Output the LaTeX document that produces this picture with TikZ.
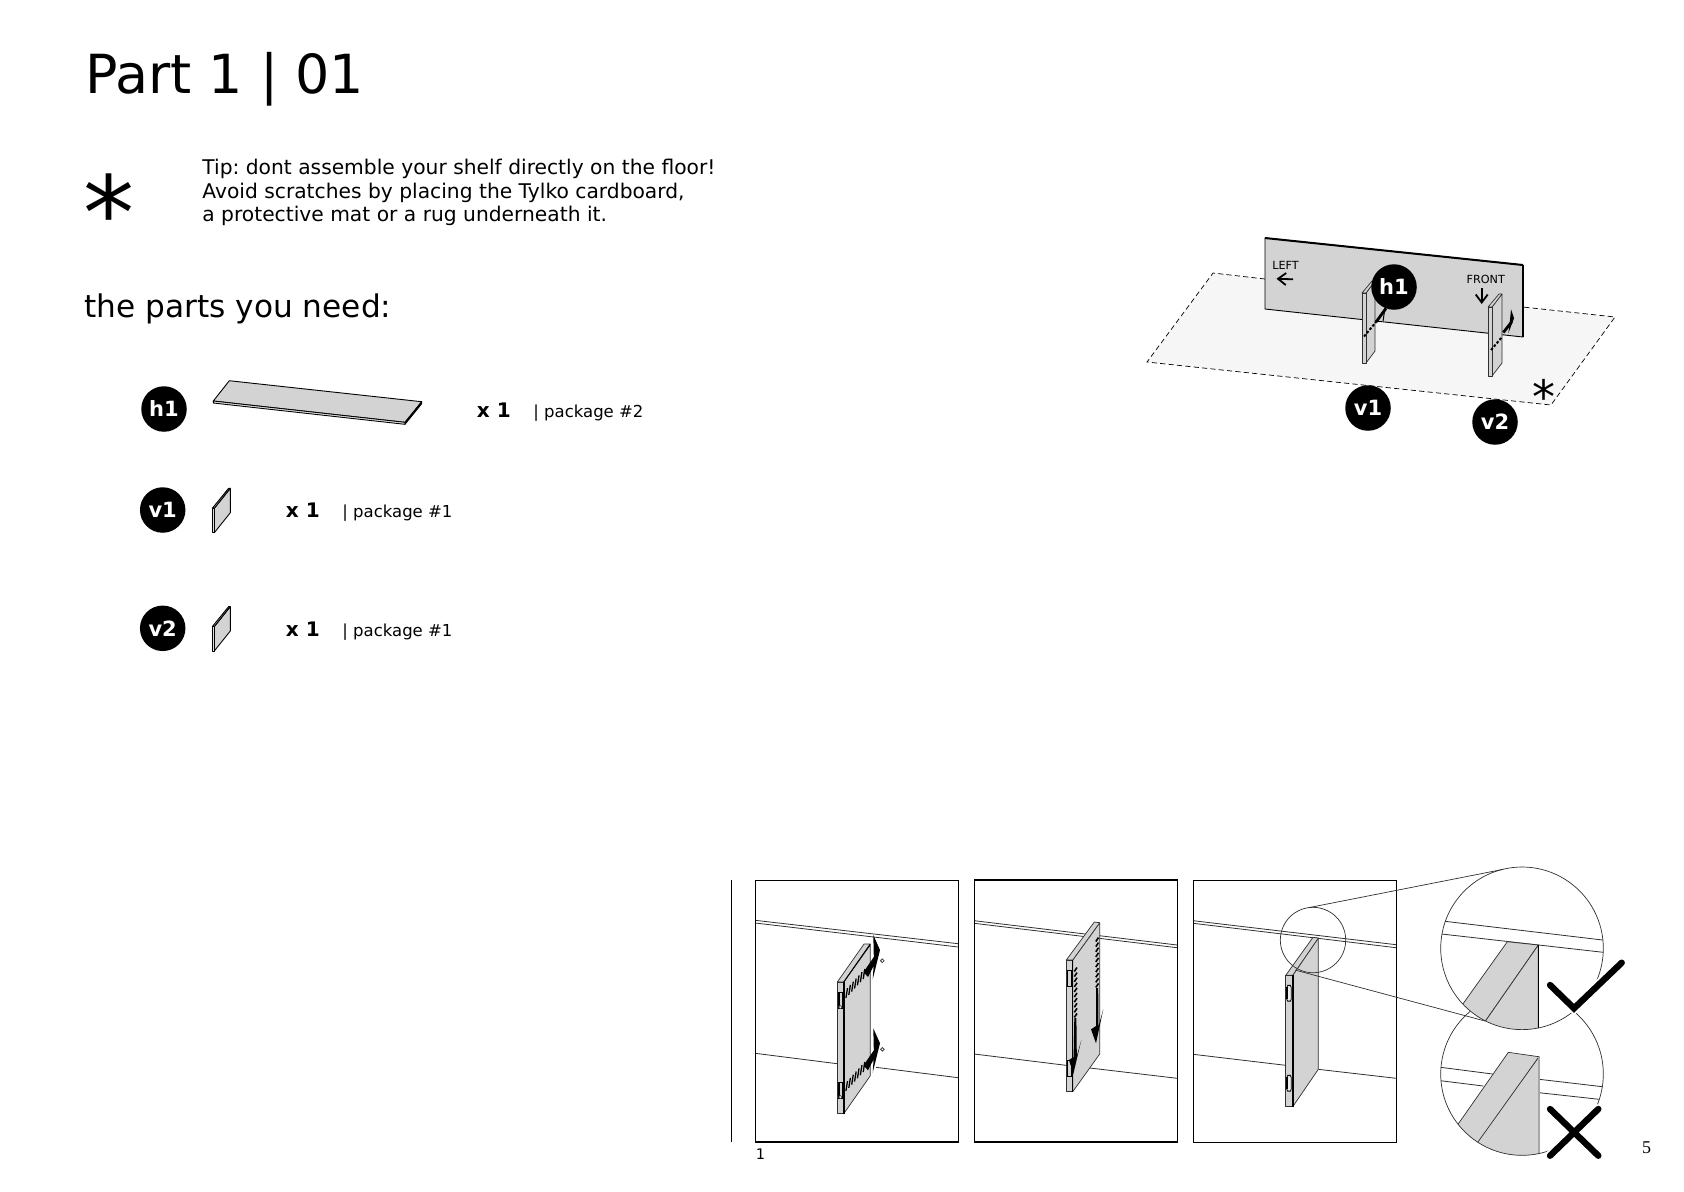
\documentclass[tikz,border=0pt]{standalone}
\usepackage{fontspec}
\setmainfont{DejaVu Sans}
\newfontfamily\serifpg{Liberation Serif}
\usetikzlibrary{calc,arrows.meta}
\newcommand\fsz[2]{\fontsize{#1}{#2}\selectfont}
\definecolor{panelgray}{HTML}{D3D3D3}
\definecolor{floorgray}{HTML}{F6F6F6}
\definecolor{thinline}{HTML}{303030}
\tikzset{
  badge/.style={circle,fill=black,text=white,minimum size=22.75pt,inner sep=0pt,font=\fsz{10.5}{12}\bfseries},
  panelface/.style={fill=panelgray,draw=black,line width=0.45pt,line join=round},
  panelthin/.style={fill=panelgray,draw=thinline,line width=0.35pt,line join=round},
  thin line/.style={draw=thinline,line width=0.4pt},
  frame box/.style={draw=black,line width=0.7pt},
  zoomline/.style={draw=thinline,line width=0.35pt},
  qtytext/.style={anchor=base west,font=\fsz{10}{12}\bfseries},
  pkgtext/.style={anchor=base west,font=\fsz{8.25}{10}},
  tick mark/.style={draw=black,line width=0.65pt},
  slant tick/.style={draw=black,line width=0.8pt},
  dash run/.style={draw=black,line width=1pt,dash pattern=on 1.3pt off 0.9pt},
  mark stroke/.style={draw=black,line width=3.2pt,line cap=round,line join=miter},
  mark halo/.style={draw=white,line width=5pt,line cap=round},
}
% ticks between two points
\newcommand\tickrow[6]{% x1 y1 x2 y2 dx dy
  \foreach \t in {0,0.1667,0.3333,0.5,0.6667,0.8333,1}{
    \draw[tick mark] ($(#1,#2)!\t!(#3,#4)+(#5,#6)$) -- ($(#1,#2)!\t!(#3,#4)-(#5,#6)$);
  }}
% isometric upright panel, small
\newcommand\smallpanel[1]{%
  \begin{scope}[yshift=#1]
    \draw[panelface] (214.3,508.3) -- (230.3,488.3) -- (230.3,512.7) -- (214.3,532.7) -- cycle;
    \draw[panelface,fill=panelgray!70] (212.3,508.3) -- (228.6,488.3) -- (230.3,488.3) -- (214.3,508.3) -- cycle;
    \draw[panelface,fill=panelgray!70] (212.3,508.3) rectangle (214.3,532.7);
  \end{scope}}
% arrow head + shaft, pointing up (first panel)
\newcommand\sweptarrow[1]{%
  \begin{scope}[yshift=#1]
    \fill[black] (863.5,972) -- (873.8,957) -- (873.3,935) -- (880,950) -- (872.7,979.3) -- (873.6,966) -- (868,977) -- cycle;
  \end{scope}}
\begin{document}
\begin{tikzpicture}[x=0.5pt,y=-0.5pt]
\useasboundingbox (0,0) rectangle (1684,1191);
\fill[white] (0,0) rectangle (1684,1191);

% ---- header text
\node[anchor=base west,inner sep=0pt,font=\fsz{26.95}{30}] (title) at (85,93) {Part 1 | 01};
\node[anchor=base,inner sep=0pt,font=\fsz{51}{60}] (bigstar) at (109,249.5) {*};
\node[anchor=north west,inner sep=0pt,align=left,font=\fsz{10.12}{11.8}\frenchspacing] (tip) at (202,159)
  {Tip: dont assemble your shelf directly on the floor!\\Avoid scratches by placing the Tylko cardboard,\\a protective mat or a rug underneath it.};
\node[anchor=base west,inner sep=0pt,font=\fsz{15.6}{20}] (need) at (84,317) {the parts you need:};

% ---- parts list
\node[badge] (h1a) at (164,409) {h1};
\node[badge] (v1a) at (162.7,510) {v1};
\node[badge] (v2a) at (162.7,628.3) {v2};
\draw[panelface] (229.3,380.7) -- (421.7,401.7) -- (405,422.3) -- (213.3,401) -- cycle;
\draw[panelface,fill=panelgray!60] (213.3,401) -- (405,422.3) -- (405,424.3) -- (213.3,403) -- cycle;
\draw[panelface,fill=panelgray!60] (405,422.3) -- (421.7,401.7) -- (421.7,403.7) -- (405,424.3) -- cycle;
\smallpanel{0}
\smallpanel{-59.15pt}
\node[qtytext,inner sep=0pt] (q1) at (476.5,417) {x 1};
\node[pkgtext,inner sep=0pt] (p1) at (533,417) {| package \#2};
\node[qtytext,inner sep=0pt] (q2) at (285.5,517) {x 1};
\node[pkgtext,inner sep=0pt] (p2) at (342,517) {| package \#1};
\node[qtytext,inner sep=0pt] (q3) at (285.5,636) {x 1};
\node[pkgtext,inner sep=0pt] (p3) at (342,636) {| package \#1};

% ---- top-right scene
\fill[floorgray] (1213,273) -- (1615,317) -- (1551,405) -- (1147,362) -- cycle;
\draw[draw=black,line width=0.35pt,dash pattern=on 2.6pt off 1.6pt] (1265,279) -- (1213,273) -- (1147,362) -- (1551,405) -- (1615,317) -- (1523,307);
\draw[panelface] (1265,238) -- (1523,265) -- (1523,337) -- (1265,309) -- cycle;
\draw[black,line width=1pt] (1265,238) -- (1523,265);
\draw[black,line width=0.8pt] (1523,265) -- (1523,337);
\node[inner sep=0pt,font=\fsz{5.6}{6}] (left) at (1285.5,265) {LEFT};
\node[inner sep=0pt,font=\fsz{5.6}{6}] (front) at (1485.8,279) {FRONT};
\draw[black,line width=0.9pt,-{Straight Barb[length=4pt,width=6pt]}] (1293,279.3) -- (1276.5,278.7);
\draw[black,line width=0.9pt,-{Straight Barb[length=4pt,width=6pt]}] (1481.7,288) -- (1481.7,304);
% v1 upright
\draw[panelthin] (1366,293) -- (1375,281) -- (1375,351) -- (1366,363) -- cycle;
\draw[panelthin] (1362,293) -- (1372,281) -- (1375,281) -- (1366,293) -- cycle;
\draw[panelthin] (1362,293) rectangle (1366,363);
\draw[dash run] (1364,336.5) -- (1376,322);
\draw[black,line width=1.4pt] (1376,322) -- (1386,308.3);
\draw[black,line width=0.5pt] (1383,321) -- (1385,308);
% v2 upright
\draw[panelthin] (1492,307) -- (1502,294) -- (1502,363) -- (1492,376) -- cycle;
\draw[panelthin] (1488,307) -- (1499,294) -- (1502,294) -- (1492,307) -- cycle;
\draw[panelthin] (1488,307) rectangle (1492,376);
\draw[dash run] (1491,350) -- (1502,337);
\draw[black,line width=1.4pt] (1503.3,332.5) -- (1511.7,321.7);
\fill[black] (1511,309.3) -- (1514,318.3) -- (1508.3,333.3) -- (1510,320) -- cycle;
\node[badge] (h1b) at (1394,287) {h1};
\node[badge] (v1b) at (1368,408) {v1};
\node[badge] (v2b) at (1495,422) {v2};
\node[anchor=base,inner sep=0pt,font=\fsz{23}{24}] (smallstar) at (1544,413) {*};

% ---- rule
\draw[frame box] (731.5,880) -- (731.5,1142);

% ---- frame 1
\draw[thin line] (755.3,920.3) -- (958.3,943.7);
\draw[thin line] (755.3,923) -- (958.3,947);
\draw[thin line] (755.3,1053.3) -- (837.3,1063.7);
\draw[thin line] (876,1067.3) -- (958.3,1077.7);
\draw[panelthin] (843.7,982) -- (870.3,945) -- (870.3,1075.7) -- (843.7,1113.7) -- cycle;
\draw[panelthin] (837.3,982) -- (864,944) -- (870.3,944) -- (843.7,982) -- cycle;
\draw[panelthin] (837.3,982) rectangle (843.7,1113.7);
\draw[black,line width=0.8pt] (843.7,982) -- (843.7,1113.7);
\draw[black,line width=0.45pt] (843.7,982) -- (870.3,944);
\foreach \dy in {0,90}{
  \begin{scope}[yshift=-\dy*0.5pt]
    \draw[black,line width=0.4pt,fill=panelgray] (838.7,992.3) rectangle (842,1008.3);
    \draw[black,line width=1pt] (839.3,992.3) -- (839.3,1006);
    \draw[black!70,line width=0.3pt,fill=white] (840.3,1007) circle (1.6);
  \end{scope}}
\tickrow{846.7}{993}{864}{974}{0.8}{-5}
\tickrow{846.7}{1086}{864}{1067}{0.8}{-5}
\sweptarrow{0}
\sweptarrow{-46.65pt}
\draw[black!75,line width=0.4pt,fill=white] (882.3,960.7) circle (1.8);
\draw[black!75,line width=0.4pt,fill=white] (882.3,1049.3) circle (1.8);
\draw[frame box] (755.3,880.3) rectangle (958.3,1142);
\node[anchor=base west,inner sep=0pt,font=\fsz{7.3}{8}] (pg1) at (755.5,1159) {1};

% ---- frame 2
\draw[thin line] (974.3,920.7) -- (1177.3,945);
\draw[thin line] (974.3,923.3) -- (1177.3,947.7);
\draw[thin line] (974.3,1054) -- (1066,1065.3);
\draw[thin line] (1090,1068) -- (1177.3,1078.3);
\draw[panelthin] (1072.7,960) -- (1099.7,922.7) -- (1099.7,1054) -- (1072.7,1091.7) -- cycle;
\draw[panelthin] (1066.3,960) -- (1094.3,922) -- (1099.7,922.7) -- (1072.7,960) -- cycle;
\draw[panelthin] (1066.3,960) rectangle (1072.7,1091.7);
\draw[black,line width=0.6pt] (1072.7,960) -- (1072.7,1091.7);
\draw[black,line width=0.4pt,fill=panelgray] (1067.7,970) rectangle (1071,986);
\draw[black,line width=0.4pt,fill=panelgray] (1067.7,1060.7) rectangle (1071,1076.7);
\foreach \n in {0,...,9}{
  \draw[slant tick] ($(1074.3,971.5)+(0,\n*5.1)$) -- ++(2.7,-4);
}
\foreach \n in {0,...,9}{
  \draw[slant tick] ($(1095.8,941.5)+(0,\n*5.1)$) -- ++(2.7,-4);
}
\fill[black] (1074.3,1018) -- (1076.4,1018) -- (1076.8,1056) -- (1081.3,1040) -- (1073.3,1074) -- (1069,1060) -- (1073.6,1057) -- cycle;
\fill[black] (1096,988) -- (1098.2,988) -- (1098.4,1026.7) -- (1103.3,1009) -- (1096,1043.3) -- (1091,1029.3) -- (1096,1026) -- cycle;
\draw[frame box] (974.3,880) rectangle (1177.3,1142);

% ---- frame 3
\draw[thin line] (1193.3,920.7) -- (1396.3,944.7);
\draw[thin line] (1193.3,923.3) -- (1396.3,947.7);
\draw[thin line] (1193.3,1054.3) -- (1285.7,1065.3);
\draw[thin line] (1318.3,1069.3) -- (1396.3,1078.3);
\draw[panelthin] (1292.7,975.3) -- (1318.3,938) -- (1318.3,1069.3) -- (1292.7,1106.7) -- cycle;
\draw[panelthin] (1285.7,975.3) -- (1313,937.3) -- (1318.3,938) -- (1292.7,975.3) -- cycle;
\draw[panelthin] (1285.7,975.3) rectangle (1292.7,1106.7);
\draw[black,line width=0.8pt] (1292.7,975.3) -- (1292.7,1106.7);
\foreach \sy in {985.3,1075.3}{
  \draw[black,line width=0.4pt,rounded corners=1.2pt,fill=panelgray!40] (1286.7,\sy) rectangle ++(4.6,16);
  \draw[black,line width=0.9pt] (1287,\sy+2) -- ++(0,12);
}
\draw[frame box] (1193.3,880.3) rectangle (1396.3,1142.3);
\coordinate (smallc) at (1313,940);
\draw[zoomline] (smallc) circle (32.7);

% ---- lower zoom circle (X)
\coordinate (bigb) at (1522,1074);
\coordinate (bigt) at (1522,948.3);
\begin{scope}
  \clip (bigb) circle (81.3);
  \draw[thin line] (1440.7,1067.3) -- (1492.7,1074);
  \draw[thin line] (1539.3,1079.3) -- (1602.7,1086.7);
  \draw[thin line] (1440.7,1080.7) -- (1483.3,1086);
  \draw[thin line] (1539.3,1092.7) -- (1599.3,1099.3);
  \draw[panelthin] (1508.3,1052.3) -- (1539,1056.7) -- (1470,1155) -- (1440,1150) -- cycle;
  \draw[panelthin] (1539,1056.7) -- (1539,1160) -- (1465,1160) -- cycle;
  \draw[black!35,line width=0.9pt] (1539,1056.7) -- (1539,1160);
\end{scope}
\draw[zoomline] (bigb) circle (81.3);
% ---- upper zoom circle (tick)
\fill[white] (bigt) circle (81.3);
\begin{scope}
  \clip (bigt) circle (81.3);
  \draw[thin line] (1445,921.3) -- (1602.7,940);
  \draw[thin line] (1441.7,934) -- (1603.3,952.3);
  \draw[panelthin] (1507.3,941.7) -- (1538.3,945) -- (1475,1036) -- (1440,1036) -- cycle;
  \draw[panelthin] (1538.3,945) -- (1538.3,1040) -- (1475,1036) -- cycle;
  \draw[black,line width=0.6pt] (1538.3,945) -- (1538.3,1040);
\end{scope}
\draw[zoomline] (bigt) circle (81.3);
\draw[zoomline] (1308.3,907.7) -- (1503.3,869.3);
\draw[zoomline] (1295,970) -- (1485,1021);
% marks
\draw[mark halo] (1550,985) -- (1574,1008.3) -- (1621.7,962.7);
\draw[mark stroke] (1550,985) -- (1574,1008.3) -- (1621.7,962.7);
\draw[mark halo] (1550,1109) -- (1598.3,1155.7) (1598.3,1109) -- (1550,1155.7);
\draw[mark stroke] (1550,1109) -- (1598.3,1155.7) (1598.3,1109) -- (1550,1155.7);
\node[anchor=base,inner sep=0pt,font=\serifpg\fsz{9}{10}] (pg5) at (1646.7,1153) {5};
\end{tikzpicture}
\end{document}
